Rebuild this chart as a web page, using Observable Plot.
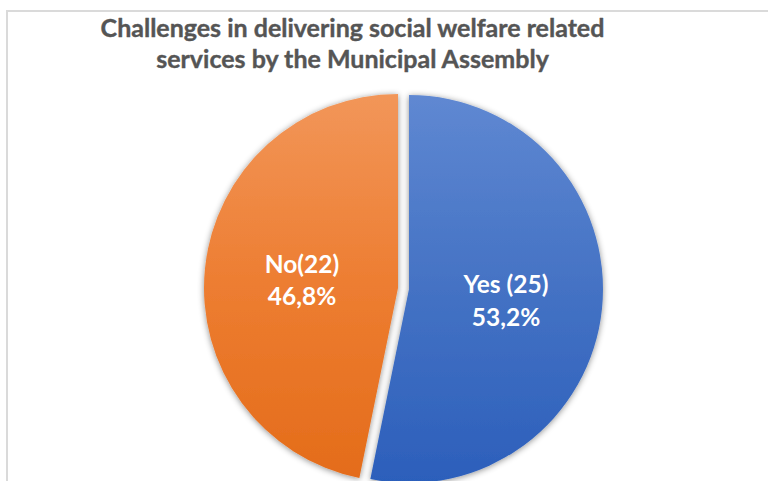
<!DOCTYPE html>
<html><head><meta charset="utf-8">
<script src="https://cdn.jsdelivr.net/npm/d3@7"></script>
<script src="https://cdn.jsdelivr.net/npm/@observablehq/plot@0.6"></script>
<style>
html,body{margin:0;padding:0;background:#fff;overflow:hidden;}
#wrap{position:relative;width:768px;height:481px;overflow:hidden;}
#frame{position:absolute;left:6px;top:10px;width:820px;height:540px;border:2px solid #dadada;box-sizing:border-box;}
#chart{position:absolute;left:0;top:0;}
</style></head><body>
<div id="wrap"><div id="frame"></div><div id="chart"></div></div>
<script>
const categories = ["Yes", "No"];
const counts = [25, 22];
const countLabels = ["Yes (25)", "No(22)"];
const percentLabels = ["53,2%", "46,8%"];
const colorsTop = ["#5f88d2", "#f29659"];
const colorsMid = ["#4472c4", "#ed7d31"];
const colorsBottom = ["#2c5fbb", "#e46c1a"];
const titleText = "Challenges in delivering social welfare related\nservices by the Municipal Assembly";

const explode = [0, 0.057];
const labelRadius = 0.5;

const pieData = d3.pie().sort(null).value(d => d.count)(
  categories.map((c, i) => ({category: c, count: counts[i], label: countLabels[i] + "\n" + percentLabels[i]}))
);
const slices = pieData.map((p, i) => {
  const mid = (p.startAngle + p.endAngle) / 2;
  const ox = explode[i] * Math.sin(mid), oy = explode[i] * Math.cos(mid);
  return {...p.data, i, a0: p.startAngle, a1: p.endAngle, ox, oy,
    lx: ox + labelRadius * Math.sin(mid), ly: oy + labelRadius * Math.cos(mid)};
});

function sliceMark(index, scales, values, dimensions, context) {
  const x = scales.x, y = scales.y;
  const r = x(1) - x(0);
  const g = d3.create("svg:g");
  const defs = g.append("defs");
  slices.forEach((d, i) => {
    const lg = defs.append("linearGradient").attr("id", "pg" + i)
      .attr("x1", 0).attr("y1", 0).attr("x2", 0).attr("y2", 1);
    lg.append("stop").attr("offset", "0%").attr("stop-color", colorsTop[i]);
    lg.append("stop").attr("offset", "50%").attr("stop-color", colorsMid[i]);
    lg.append("stop").attr("offset", "100%").attr("stop-color", colorsBottom[i]);
  });
  const f = defs.append("filter").attr("id", "pshadow")
    .attr("x", "-10%").attr("y", "-10%").attr("width", "120%").attr("height", "120%");
  f.append("feDropShadow").attr("dx", 0).attr("dy", 1).attr("stdDeviation", 3)
    .attr("flood-color", "#000").attr("flood-opacity", 0.45);
  const arc = d3.arc().innerRadius(0).outerRadius(r);
  g.selectAll("path").data(slices).join("path")
    .attr("transform", d => `translate(${x(d.ox)},${y(d.oy)})`)
    .attr("d", d => arc({startAngle: d.a0, endAngle: d.a1}))
    .attr("fill", d => `url(#pg${d.i})`)
    .attr("filter", "url(#pshadow)");
  return g.node();
}

const chart = Plot.plot({
  width: 768,
  height: 481,
  margin: 0,
  x: {domain: [-1, 1], range: [215, 603], axis: null},
  y: {domain: [-1, 1], range: [483, 95], axis: null},
  style: {background: "transparent", overflow: "visible"},
  marks: [
    sliceMark,
    Plot.text(slices, {x: "lx", y: "ly", text: "label", fill: "white", fontSize: 24.5,
      fontWeight: "bold", fontFamily: "Lato", lineHeight: 1.32}),
    Plot.text([titleText], {text: d => d, frameAnchor: "top", dx: -32, dy: 14, lineAnchor: "top",
      fontSize: 25, fontWeight: "bold", fontFamily: "Lato", fill: "#555555", lineHeight: 1.26,
      stroke: "#555555", strokeWidth: 0.4})
  ]
});
document.getElementById("chart").appendChild(chart);
</script>
</body></html>
